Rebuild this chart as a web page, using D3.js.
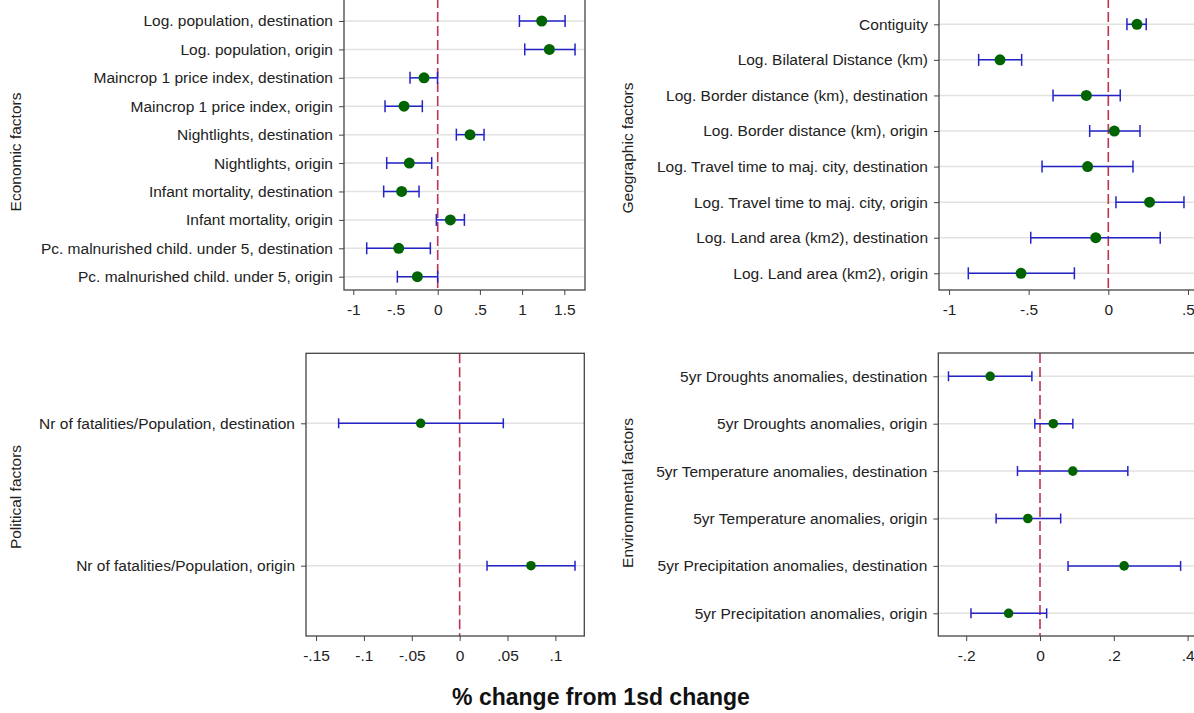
<!DOCTYPE html>
<html>
<head>
<meta charset="utf-8">
<script src="https://cdn.jsdelivr.net/npm/d3@7"></script>
<style>
  body { margin: 0; background: #fff; }
  svg { display: block; font-family: "Liberation Sans", Arial, sans-serif; }
</style>
</head>
<body>
<svg id="chart"></svg>
<script>
// economic factors
var econLabels = ["Log. population, destination", "Log. population, origin",
  "Maincrop 1 price index, destination", "Maincrop 1 price index, origin",
  "Nightlights, destination", "Nightlights, origin",
  "Infant mortality, destination", "Infant mortality, origin",
  "Pc. malnurished child. under 5, destination", "Pc. malnurished child. under 5, origin"];
var econEst = [1.232, 1.323, -0.162, -0.399, 0.383, -0.336, -0.427, 0.150, -0.462, -0.241];
var econLo  = [0.968, 1.031, -0.328, -0.624, 0.221, -0.604, -0.640, -0.016, -0.841, -0.478];
var econHi  = [1.509, 1.627, -0.002, -0.182, 0.549, -0.071, -0.221, 0.316, -0.087, 0.000];
var econTicks = [-1, -0.5, 0, 0.5, 1, 1.5];

// geographic factors
var geoLabels = ["Contiguity", "Log. Bilateral Distance (km)",
  "Log. Border distance (km), destination", "Log. Border distance (km), origin",
  "Log. Travel time to maj. city, destination", "Log. Travel time to maj. city, origin",
  "Log. Land area (km2), destination", "Log. Land area (km2), origin"];
var geoEst = [0.180, -0.680, -0.138, 0.038, -0.130, 0.259, -0.079, -0.548];
var geoLo  = [0.117, -0.814, -0.347, -0.117, -0.416, 0.048, -0.487, -0.879];
var geoHi  = [0.238, -0.544, 0.075, 0.199, 0.155, 0.475, 0.326, -0.213];
var geoTicks = [-1, -0.5, 0, 0.5];

// political factors
var polLabels = ["Nr of fatalities/Population, destination", "Nr of fatalities/Population, origin"];
var polEst = [-0.0407, 0.0745];
var polLo  = [-0.1264, 0.0286];
var polHi  = [0.0456, 0.1205];
var polTicks = [-0.15, -0.1, -0.05, 0, 0.05, 0.1];

// environmental factors
var envLabels = ["5yr Droughts anomalies, destination", "5yr Droughts anomalies, origin",
  "5yr Temperature anomalies, destination", "5yr Temperature anomalies, origin",
  "5yr Precipitation anomalies, destination", "5yr Precipitation anomalies, origin"];
var envEst = [-0.135, 0.036, 0.089, -0.033, 0.228, -0.085];
var envLo  = [-0.248, -0.014, -0.061, -0.119, 0.076, -0.187];
var envHi  = [-0.022, 0.089, 0.238, 0.056, 0.381, 0.018];
var envTicks = [-0.2, 0, 0.2, 0.4];

var W = 1194, H = 713;
var FONT = '"Liberation Sans", Arial, sans-serif';

var chart = d3.select('#chart')
  .attr('width', W)
  .attr('height', H);

function fmt(d) {
  if (d === 0) return "0";
  return String(+d.toFixed(3)).replace(/^(-?)0\./, "$1.");
}

function panel(p) {
  var x = d3.scaleLinear().domain(p.dom).range([p.left, p.right]);
  var y = d3.scalePoint().domain(p.labels).range([p.rowTop, p.rowBot]);
  var rows = p.labels.map(function(l, i) {
    return {name: l, est: p.est[i], lo: p.lo[i], hi: p.hi[i]};
  });

  var g = chart.append('g');

  // grid lines
  g.selectAll('.grid')
    .data(p.labels)
    .enter().append('line')
    .attr('x1', p.left).attr('x2', p.right)
    .attr('y1', function(d){ return y(d); })
    .attr('y2', function(d){ return y(d); })
    .attr('stroke', '#e2e2e2')
    .attr('stroke-width', 1.5);

  // zero line
  g.append('line')
    .attr('x1', x(0)).attr('x2', x(0))
    .attr('y1', p.top).attr('y2', p.bottom)
    .attr('stroke', '#c0334f')
    .attr('stroke-width', 1.6)
    .attr('stroke-dasharray', '10,4');

  // error bars
  var bars = g.selectAll('.ci').data(rows).enter().append('g');
  bars.append('line')
    .attr('x1', function(d){ return x(d.lo); })
    .attr('x2', function(d){ return x(d.hi); })
    .attr('y1', function(d){ return y(d.name); })
    .attr('y2', function(d){ return y(d.name); })
    .attr('stroke', '#2323c8').attr('stroke-width', 1.5);
  ['lo', 'hi'].forEach(function(k) {
    bars.append('line')
      .attr('x1', function(d){ return x(d[k]); })
      .attr('x2', function(d){ return x(d[k]); })
      .attr('y1', function(d){ return y(d.name) - p.cap; })
      .attr('y2', function(d){ return y(d.name) + p.cap; })
      .attr('stroke', '#2323c8').attr('stroke-width', 1.5);
  });

  g.selectAll('.pt').data(rows).enter().append('circle')
    .attr('cx', function(d){ return x(d.est); })
    .attr('cy', function(d){ return y(d.name); })
    .attr('r', p.r)
    .attr('fill', '#006400');

  // frame
  g.append('rect')
    .attr('x', p.left).attr('y', p.top)
    .attr('width', p.right - p.left).attr('height', p.bottom - p.top)
    .attr('fill', 'none')
    .attr('stroke', '#444')
    .attr('stroke-width', 1.3);

  var xAxis = g.append('g')
    .attr('transform', 'translate(0,' + p.bottom + ')')
    .call(d3.axisBottom(x).tickValues(p.ticks).tickFormat(fmt).tickSize(5).tickPadding(9));
  xAxis.select('.domain').remove();
  xAxis.selectAll('line').attr('stroke', '#444');
  xAxis.selectAll('text').attr('font-size', 15.5).attr('fill', '#222')
    .attr('font-family', FONT);

  var yAxis = g.append('g')
    .attr('transform', 'translate(' + p.left + ',0)')
    .call(d3.axisLeft(y).tickSize(5).tickPadding(6));
  yAxis.select('.domain').remove();
  yAxis.selectAll('line').attr('stroke', '#444');
  yAxis.selectAll('text').attr('font-size', 15.5).attr('fill', '#222')
    .attr('font-family', FONT);

  g.append('text')
    .attr('transform', 'translate(' + p.titleX + ',' + p.titleY + ') rotate(-90)')
    .attr('text-anchor', 'middle')
    .attr('dy', '0.35em')
    .attr('font-size', 15.5)
    .attr('fill', '#222')
    .text(p.title);
}

panel({labels: econLabels, est: econEst, lo: econLo, hi: econHi, ticks: econTicks,
  dom: [-1.11, 1.745], left: 344, right: 585, top: -2, bottom: 290,
  rowTop: 21, rowBot: 276.7, r: 5.5, cap: 6, title: "Economic factors", titleX: 16, titleY: 152});

panel({labels: geoLabels, est: geoEst, lo: geoLo, hi: geoHi, ticks: geoTicks,
  dom: [-1.063, 0.5757], left: 939, right: 1200, top: -2, bottom: 290,
  rowTop: 24.3, rowBot: 273.3, r: 5.5, cap: 6, title: "Geographic factors", titleX: 628, titleY: 148});

panel({labels: polLabels, est: polEst, lo: polLo, hi: polHi, ticks: polTicks,
  dom: [-0.1605, 0.1302], left: 306, right: 584.3, top: 353.3, bottom: 636,
  rowTop: 423.3, rowBot: 565.7, r: 4.8, cap: 5, title: "Political factors", titleX: 16, titleY: 497});

panel({labels: envLabels, est: envEst, lo: envLo, hi: envHi, ticks: envTicks,
  dom: [-0.2756, 0.4336], left: 938.3, right: 1200, top: 353, bottom: 636,
  rowTop: 376.3, rowBot: 613.3, r: 4.8, cap: 5, title: "Environmental factors", titleX: 628, titleY: 493});

chart.append('text')
  .attr('x', 601).attr('y', 705)
  .attr('text-anchor', 'middle')
  .attr('font-size', 23)
  .attr('font-weight', 'bold')
  .attr('fill', '#111')
  .attr('font-family', FONT)
  .text('% change from 1sd change');
</script>
</body>
</html>
